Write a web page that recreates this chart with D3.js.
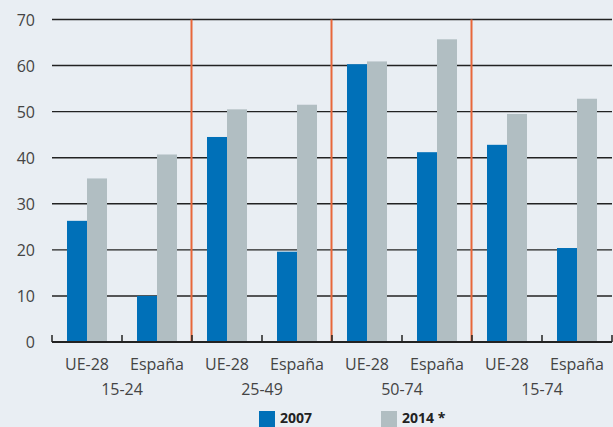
<!DOCTYPE html>
<html>
<head>
<meta charset="utf-8">
<script src="https://cdn.jsdelivr.net/npm/d3@7"></script>
<style>
  body { margin: 0; background: #e9eef3; }
  svg { display: block; font-family: "Open Sans", sans-serif; }
</style>
</head>
<body>
<div id="chart"></div>
<script>
// data
var groups = ["15-24", "25-49", "50-74", "15-74"];
var regions = ["UE-28", "España"];
var series = ["2007", "2014 *"];
var values2007 = [26.3, 10.0, 44.5, 19.6, 60.3, 41.2, 42.8, 20.4];
var values2014 = [35.5, 40.7, 50.5, 51.5, 60.9, 65.7, 49.5, 52.8];
var yTicks = [0, 10, 20, 30, 40, 50, 60, 70];

var W = 613, H = 427;
var margin = { top: 19.5, right: 1, bottom: 85, left: 52 };
var width = W - margin.left - margin.right;
var height = H - margin.top - margin.bottom;

var colors = ["#0070b8", "#b1bec2"];

var svg = d3.select("#chart").append("svg")
  .attr("width", W).attr("height", H);
svg.append("rect").attr("width", W).attr("height", H).attr("fill", "#e9eef3");

var g = svg.append("g").attr("transform", "translate(" + margin.left + "," + margin.top + ")");

var cats = [];
groups.forEach(function (gr) {
  regions.forEach(function (r) { cats.push(gr + "|" + r); });
});
var data = cats.map(function (c, i) {
  return { key: c, region: c.split("|")[1], vals: [values2007[i], values2014[i]] };
});

var x = d3.scaleBand().domain(cats).range([0, 560]).paddingInner(0).paddingOuter(0);
var xs = d3.scaleBand().domain(series).range([0, 40]);
var y = d3.scaleLinear().domain([0, 70]).range([height, 0]);

// gridlines
g.selectAll(".grid").data(yTicks.filter(function (d) { return d > 0; })).join("line")
  .attr("x1", 0).attr("x2", width)
  .attr("y1", function (d) { return y(d); }).attr("y2", function (d) { return y(d); })
  .attr("stroke", "#222").attr("stroke-width", 1.4);

// bars
var cat = g.selectAll(".cat").data(data).join("g")
  .attr("transform", function (d) { return "translate(" + (x(d.key) + (x.bandwidth() - 40) / 2) + ",0)"; });
cat.selectAll("rect").data(function (d) { return d.vals; }).join("rect")
  .attr("x", function (d, i) { return xs(series[i]); })
  .attr("width", xs.bandwidth())
  .attr("y", function (d) { return y(d); })
  .attr("height", function (d) { return height - y(d); })
  .attr("fill", function (d, i) { return colors[i]; });

// red separators between age groups
g.selectAll(".sep").data(groups.slice(1)).join("line")
  .attr("x1", function (d) { return x(d + "|UE-28") - 0.5; })
  .attr("x2", function (d) { return x(d + "|UE-28") - 0.5; })
  .attr("y1", 0).attr("y2", height)
  .attr("stroke", "#e8673a").attr("stroke-width", 2);

// y axis labels
g.selectAll(".ylab").data(yTicks).join("text")
  .attr("x", -17).attr("y", function (d) { return y(d) + 6; })
  .attr("text-anchor", "end").attr("font-size", 16).attr("fill", "#444")
  .text(function (d) { return d; });

// x axis line with ticks
var xAxis = g.append("g").attr("transform", "translate(0," + height + ")");
xAxis.append("line").attr("x1", 0).attr("x2", width).attr("stroke", "#222").attr("stroke-width", 2);
xAxis.selectAll(".tk").data(d3.range(cats.length + 1)).join("line")
  .attr("x1", function (i) { return i * x.bandwidth(); })
  .attr("x2", function (i) { return i * x.bandwidth(); })
  .attr("y1", -7).attr("y2", 0)
  .attr("stroke", "#222").attr("stroke-width", 1.5);
xAxis.selectAll(".clab").data(data).join("text")
  .attr("x", function (d) { return x(d.key) + x.bandwidth() / 2; })
  .attr("y", 28)
  .attr("text-anchor", "middle").attr("font-size", 16).attr("fill", "#444")
  .text(function (d) { return d.region; });
xAxis.selectAll(".glab").data(groups).join("text")
  .attr("x", function (d) { return x(d + "|UE-28") + x.bandwidth(); })
  .attr("y", 53)
  .attr("text-anchor", "middle").attr("font-size", 16).attr("fill", "#444")
  .text(function (d) { return d; });

// legend
var legX = [259, 381];
var leg = svg.selectAll(".leg").data(series).join("g")
  .attr("transform", function (d, i) { return "translate(" + legX[i] + ",411)"; });
leg.append("rect").attr("width", 16).attr("height", 16)
  .attr("fill", function (d, i) { return colors[i]; });
leg.append("text").attr("x", 21).attr("y", 12)
  .attr("font-size", 14).attr("font-weight", "bold").attr("fill", "#222")
  .text(function (d) { return d; });
</script>
</body>
</html>
